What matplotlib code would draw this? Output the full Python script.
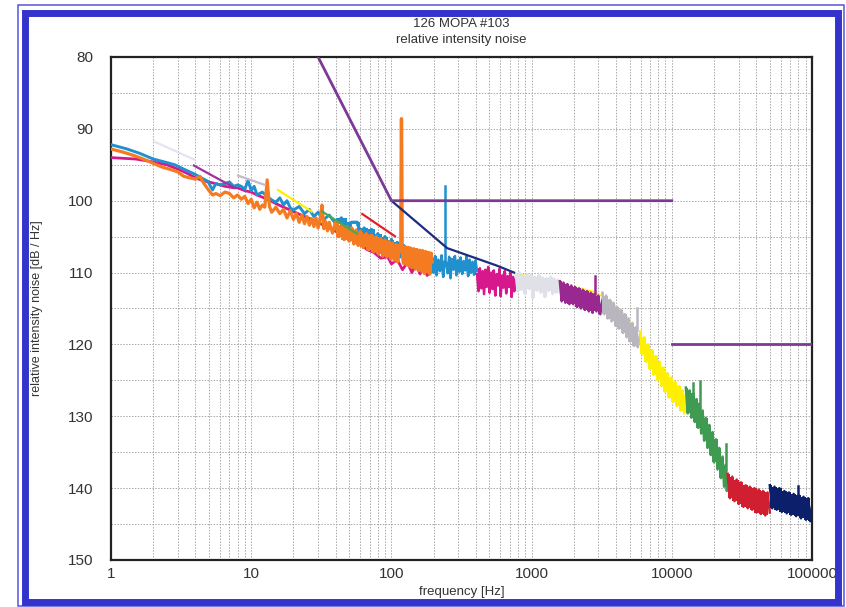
import matplotlib
matplotlib.use("Agg")
import matplotlib.pyplot as plt
from matplotlib.patches import Rectangle
from matplotlib.ticker import LogLocator, MultipleLocator, NullFormatter

plt.rcParams['font.family'] = ['Liberation Sans', 'DejaVu Sans']

# ---------------- data (frequency [Hz], RIN [dB/Hz]) ----------------
x_ticks = [1, 10, 100, 1000, 10000, 100000]
x_tick_labels = ["1", "10", "100", "1000", "10000", "100000"]
y_ticks = [80, 90, 100, 110, 120, 130, 140, 150]

# requirement / limit line
limit_a = [(30, 80), (100, 100), (10000, 100)]
limit_b = [(10000, 120), (100000, 120)]
# dark knee line
knee_line = [(100, 100), (250, 106.6), (560, 109.0), (750, 110.0)]

# low-frequency traces
magenta_lf = [(1, 94.0), (1.5, 94.2), (2, 94.6), (2.5, 95.0), (3, 95.6), (3.5, 96.2), (4, 96.8),
              (4.5, 97.2), (5, 97.4), (5.5, 97.6), (6, 97.8), (6.5, 98.0), (7, 98.1), (7.5, 98.2),
              (8, 98.2), (9, 98.6), (10, 98.8), (11, 99.2), (12, 99.5), (13, 99.8), (14, 100.1),
              (15, 100.4), (17, 100.9), (19, 101.3), (21, 101.7), (24, 102.2), (27, 102.6),
              (30, 103.0), (34, 103.6), (38, 104.0), (43, 104.6), (48, 105.0), (54, 105.6),
              (60, 106.0), (67, 106.8), (75, 107.2), (84, 108.0), (94, 107.8), (100, 108.8),
              (110, 108.2), (120, 109.6), (130, 108.6), (140, 110.0), (150, 108.8), (160, 110.2),
              (170, 109.0), (180, 110.4), (195, 109.6)]
blue_lf = [(1, 92.2), (1.3, 92.8), (1.6, 93.4), (2, 94.2), (2.4, 94.6), (2.85, 95.0), (3.3, 95.6),
           (3.95, 96.3), (4.4, 96.8), (4.9, 97.3), (5.3, 98.5), (5.6, 97.6), (6, 97.8), (6.5, 97.6),
           (7, 97.4), (7.5, 98.0), (8, 97.8), (8.5, 98.0), (9, 98.4), (9.5, 97.2), (10, 98.6),
           (10.5, 98.0), (11, 99.2), (12, 98.8), (13, 99.4), (14, 99.9), (15, 100.2), (16, 99.6),
           (17, 100.6), (18, 100.0), (19, 101.0), (20, 101.3), (22, 100.8), (24, 101.8),
           (26, 101.2), (28, 102.2), (30, 101.6), (33, 102.6), (36, 102.0), (40, 103.2),
           (44, 102.4), (48, 104.0), (52, 103.0), (57, 103.0), (60, 104.6), (64, 103.8),
           (68, 105.2), (72, 104.0), (76, 105.6), (80, 104.6), (85, 106.4), (90, 105.0),
           (95, 106.8), (100, 105.4), (105, 107.4), (110, 105.8), (116, 107.8), (122, 106.2),
           (128, 108.2), (135, 106.6), (142, 108.6), (150, 106.8), (158, 109.0), (166, 107.0),
           (175, 109.4), (185, 107.4), (195, 109.6)]
orange_lf = [(1, 92.8), (1.2, 93.2), (1.4, 93.6), (1.6, 94.0), (1.8, 94.4), (2.0, 94.8), (2.3, 95.3),
             (2.6, 95.6), (3.0, 96.0), (3.3, 96.6), (3.6, 96.8), (4.0, 97.0), (4.3, 96.6),
             (4.6, 97.6), (5.0, 98.6), (5.3, 99.2), (5.6, 99.0), (6.0, 99.3), (6.5, 98.8),
             (7.0, 99.0), (7.5, 99.6), (8.0, 99.2), (8.5, 99.8), (9.0, 99.4), (9.5, 100.4),
             (10, 99.8), (10.5, 101.0), (11, 100.2), (11.5, 101.2), (12, 100.6), (12.5, 100.9),
             (13, 97.1), (13.5, 100.8), (14, 101.6), (15, 100.9), (16, 101.8), (17, 101.2),
             (18, 102.4), (19, 101.4), (20, 102.6), (21, 101.8), (22, 103.0), (23, 102.0),
             (24, 103.2), (25, 102.2), (26, 103.4), (27, 102.5), (28, 103.6), (29, 102.4),
             (30, 103.8), (31, 102.6), (32, 100.6), (33, 103.9), (34, 102.9), (35, 104.2),
             (36, 103.0), (38, 104.5), (40, 103.0), (42, 105.0), (44, 103.4), (46, 105.4),
             (48, 103.6), (50, 105.6), (52, 103.8), (54, 106.0), (56, 104.1), (58, 106.2),
             (60, 104.3), (63, 106.5), (66, 104.6), (69, 106.8), (72, 104.8), (75, 107.1),
             (78, 105.0), (81, 107.4), (84, 105.3), (87, 107.7), (90, 105.5), (93, 107.8),
             (96, 105.7), (99, 108.1), (102, 105.9), (105, 108.3), (108, 106.1), (111, 108.5),
             (114, 106.2), (117, 107.0), (118, 88.6), (119, 106.6), (122, 108.7), (125, 106.4),
             (128, 108.9), (131, 106.5), (134, 109.1), (137, 106.6), (140, 109.3), (144, 106.7),
             (148, 109.5), (152, 106.8), (156, 109.7), (160, 106.9), (164, 109.8), (168, 107.0),
             (172, 110.1), (176, 107.1), (180, 109.9), (184, 107.2), (188, 110.2), (192, 107.3),
             (195, 108.5)]

# smoothed short traces
pale_line = [(2.05, 91.8), (3.95, 94.3)]
purple_line = [(3.9, 95.1), (7.6, 98.2)]
gray_line = [(8.05, 96.5), (12.5, 97.8)]
yellow_line = [(15.5, 98.5), (27, 101.5)]
green_line = [(32, 101.5), (57, 104.6)]
red_line = [(62, 101.85), (106, 104.95)]
yellow_hf_line = [(700, 110.0), (1000, 110.6), (1500, 111.2), (2000, 112.0), (2700, 112.6),
                  (3300, 113.4), (4000, 114.7), (5000, 116.6)]

# high-frequency noisy segments
blue_seg = [(195, 108.0), (200, 110.0), (205, 107.7), (210, 110.4), (216, 108.2), (222, 109.8),
            (228, 107.6), (234, 110.6), (240, 108.4), (246, 108.6), (252, 110.1),
            (258, 107.8), (264, 110.8), (270, 108.1), (277, 109.6), (284, 107.7), (291, 110.4),
            (298, 108.3), (305, 109.9), (312, 107.9), (320, 110.2), (328, 108.4), (336, 109.7),
            (344, 107.7), (352, 110.5), (361, 108.2), (370, 110.0), (379, 108.5), (388, 110.3),
            (398, 108.3), (408, 109.8)]
magenta_seg = [(408, 110.2), (418, 112.6), (428, 109.4), (438, 112.2), (448, 109.8), (458, 113.0),
               (468, 109.6), (478, 112.0), (490, 109.2), (502, 112.8), (514, 110.0), (526, 112.3),
               (538, 109.7), (550, 113.2), (563, 110.2), (576, 111.8), (589, 109.5), (602, 113.3),
               (616, 110.4), (630, 112.1), (644, 109.8), (659, 112.9), (674, 110.5), (689, 112.0),
               (705, 110.0), (721, 113.4), (737, 110.6), (753, 112.6), (770, 111.0)]
lightgray_seg = [(770, 110.2), (795, 112.6), (820, 110.0), (845, 112.4), (870, 110.4), (900, 113.0),
                 (930, 110.2), (960, 112.3), (990, 110.3), (1020, 113.6), (1055, 110.6),
                 (1090, 112.5), (1125, 110.4), (1160, 112.8), (1200, 110.7), (1240, 113.4),
                 (1280, 110.8), (1320, 112.6), (1365, 110.6), (1410, 113.0), (1455, 110.9),
                 (1500, 112.8), (1545, 111.0), (1590, 112.7)]
purple_seg = [(1590, 111.2), (1640, 114.0), (1690, 111.4), (1740, 114.2), (1800, 111.6), (1860, 114.4),
              (1920, 111.8), (1980, 114.4), (2040, 112.0), (2110, 114.8), (2180, 112.2), (2250, 115.0),
              (2320, 112.4), (2400, 115.2), (2480, 112.6), (2560, 115.4), (2640, 112.8), (2720, 115.6),
              (2800, 113.0), (2900, 115.4), (2990, 113.2), (3090, 115.8), (3200, 113.8)]
gray_seg = [(3200, 112.8), (3300, 115.8), (3400, 113.2), (3500, 116.4), (3610, 113.8), (3720, 116.8),
            (3840, 114.2), (3960, 117.4), (4080, 114.8), (4210, 117.8), (4340, 115.2), (4480, 118.4),
            (4620, 115.8), (4760, 119.0), (4910, 116.4), (5060, 119.6), (5220, 117.0), (5380, 120.2),
            (5550, 117.6), (5720, 120.4), (5950, 118.4)]
yellow_seg = [(5950, 118.2), (6150, 121.4), (6350, 119.0), (6550, 122.4), (6760, 120.0), (6980, 123.4),
              (7200, 120.8), (7430, 124.2), (7670, 121.6), (7920, 125.0), (8180, 122.4), (8440, 125.8),
              (8710, 123.2), (8990, 126.6), (9280, 124.0), (9580, 127.4), (9890, 124.6), (10200, 128.0),
              (10530, 125.2), (10870, 128.6), (11220, 125.8), (11580, 129.2), (11950, 126.4),
              (12300, 129.6), (12600, 127.0)]
green_seg = [(12600, 126.0), (13000, 129.6), (13400, 126.4), (13800, 130.2), (14200, 126.8),
             (14600, 130.8), (15000, 127.6), (15400, 131.6), (15800, 128.2), (16200, 132.4),
             (16600, 129.2), (17000, 133.4), (17500, 130.2), (18000, 134.4), (18500, 131.2),
             (19000, 135.4), (19500, 132.2), (20000, 136.4), (20600, 133.2), (21200, 137.4),
             (21800, 134.4), (22400, 138.6), (23000, 135.6), (23600, 139.8), (24200, 136.8),
             (24700, 140.4), (25000, 139.0)]
red_seg = [(25000, 138.0), (26000, 141.4), (27000, 138.4), (28000, 141.8), (29000, 138.8),
           (30000, 142.2), (31200, 139.2), (32400, 142.6), (33600, 139.6), (34800, 142.8),
           (36000, 139.8), (37400, 143.0), (38800, 140.0), (40200, 143.4), (41700, 140.2),
           (43200, 143.6), (44800, 140.4), (46400, 143.8), (48200, 140.6), (50000, 143.4)]
navy_seg = [(50000, 139.6), (52000, 142.8), (54000, 139.8), (56000, 143.0), (58500, 140.0),
            (61000, 143.3), (63500, 140.4), (66000, 143.5), (68500, 140.6), (71000, 143.7),
            (74000, 140.8), (77000, 143.9), (80500, 141.0), (83500, 144.2), (87000, 141.2),
            (90500, 144.4), (94000, 141.4), (97000, 144.6), (100000, 142.6)]

# narrow spikes: (frequency, peak, base)
blue_spikes = [(243, 98.0, 108.6)]
purple_spikes = [(2850, 110.5, 113.0)]
gray_spikes = [(5640, 114.9, 118.0)]
green_spikes = [(14200, 125.3, 128.0), (15800, 125.1, 129.5), (24400, 133.9, 137.5)]
navy_spikes = [(79000, 139.7, 141.5)]

# ---------------- figure ----------------
W, H = 846, 607
fig = plt.figure(figsize=(W / 100, H / 100), dpi=100)
fig.patch.set_facecolor('white')
ax = fig.add_axes([111 / W, 1 - 560 / H, (812 - 111) / W, (560 - 57) / H])


def draw(points, color, lw, z):
    xs = [p[0] for p in points]
    ys = [p[1] for p in points]
    ax.plot(xs, ys, color=color, lw=lw, zorder=z)


def band(points, color, z=4, spikes=(), lw=1.8):
    xs = [p[0] for p in points]
    ys = [p[1] for p in points]
    ax.fill_between(xs[:-1], ys[:-1], ys[1:], step='post', color=color, lw=0, zorder=z)
    ax.plot(xs, ys, color=color, lw=lw, zorder=z)
    for f, top, base in spikes:
        ax.plot([f, f], [base, top], color=color, lw=1.8, zorder=z)


draw(yellow_hf_line, '#FFEE00', 1.3, 2)
draw(magenta_lf, '#D6188C', 2.0, 3)
draw(blue_lf, '#2090CF', 2.1, 4)
band([p for p in blue_lf if p[0] >= 40], '#2090CF', z=4, lw=2.1)
draw(orange_lf, '#F47B22', 2.3, 5)
band([p for p in orange_lf if p[0] >= 40], '#F47B22', z=5, lw=2.3)
band(blue_seg, '#2090CF', spikes=blue_spikes)
band(magenta_seg, '#D6188C')
band(lightgray_seg, '#E0E0E8')
band(purple_seg, '#9A2891', spikes=purple_spikes)
band(gray_seg, '#B9B6BF', spikes=gray_spikes)
band(yellow_seg, '#FFEF00')
band(green_seg, '#3F9B52', spikes=green_spikes)
band(red_seg, '#CF1F30')
band(navy_seg, '#0B1F6B', spikes=navy_spikes)

draw(pale_line, '#E4E4F0', 1.6, 6)
draw(purple_line, '#A0309A', 1.6, 6)
draw(gray_line, '#C4BACB', 1.6, 6)
draw(yellow_line, '#FFEE00', 1.6, 6)
draw(green_line, '#4CA84C', 1.6, 6)
draw(red_line, '#E02028', 1.6, 6)
draw(knee_line, '#1C2B7E', 1.6, 6)
draw(limit_a, '#7C3A95', 2.0, 7)
draw(limit_b, '#7C3A95', 2.0, 7)

ax.set_xscale('log')
ax.set_xlim(1, 100000)
ax.set_ylim(150, 80)
ax.set_xticks(x_ticks, labels=x_tick_labels)
ax.set_yticks(y_ticks)
ax.xaxis.set_minor_locator(LogLocator(base=10, subs=range(2, 10)))
ax.xaxis.set_minor_formatter(NullFormatter())
ax.yaxis.set_minor_locator(MultipleLocator(5))
ax.grid(which='both', color='#a8a8a8', lw=0.7, ls=(0, (1.5, 1.5)), zorder=0)
ax.set_axisbelow(True)
ax.tick_params(which='both', length=0, labelsize=11, colors='#333333')
ax.tick_params(axis='y', pad=13)
ax.tick_params(axis='x', pad=5)
for s in ax.spines.values():
    s.set_linewidth(1.6)
    s.set_color('#222222')

fig.text(461.5 / W, 1 - 24 / H, "126 MOPA #103", ha='center', va='center',
         fontsize=9.5, color='#333333')
fig.text(461.5 / W, 1 - 40 / H, "relative intensity noise", ha='center', va='center',
         fontsize=9.5, color='#333333')
fig.text(461.5 / W, 1 - 592 / H, "frequency [Hz]", ha='center', va='center',
         fontsize=9.5, color='#333333')
fig.text(37 / W, 1 - 308 / H, "relative intensity noise [dB / Hz]", ha='center', va='center',
         rotation=90, fontsize=9, color='#333333')

# double blue frame
outer = Rectangle((18 / W, 1 - 606 / H), (843.5 - 18) / W, (606 - 5) / H,
                  transform=fig.transFigure, fill=False, edgecolor='#5555DD', lw=1.1, zorder=20)
inner = Rectangle((24.5 / W, 1 - 601.5 / H), (837.5 - 24.5) / W, (601.5 - 12.5) / H,
                  transform=fig.transFigure, fill=False, edgecolor='#3434CC', lw=5.0, zorder=21)
fig.patches.extend([outer, inner])

fig.savefig("out.png", dpi=100)
